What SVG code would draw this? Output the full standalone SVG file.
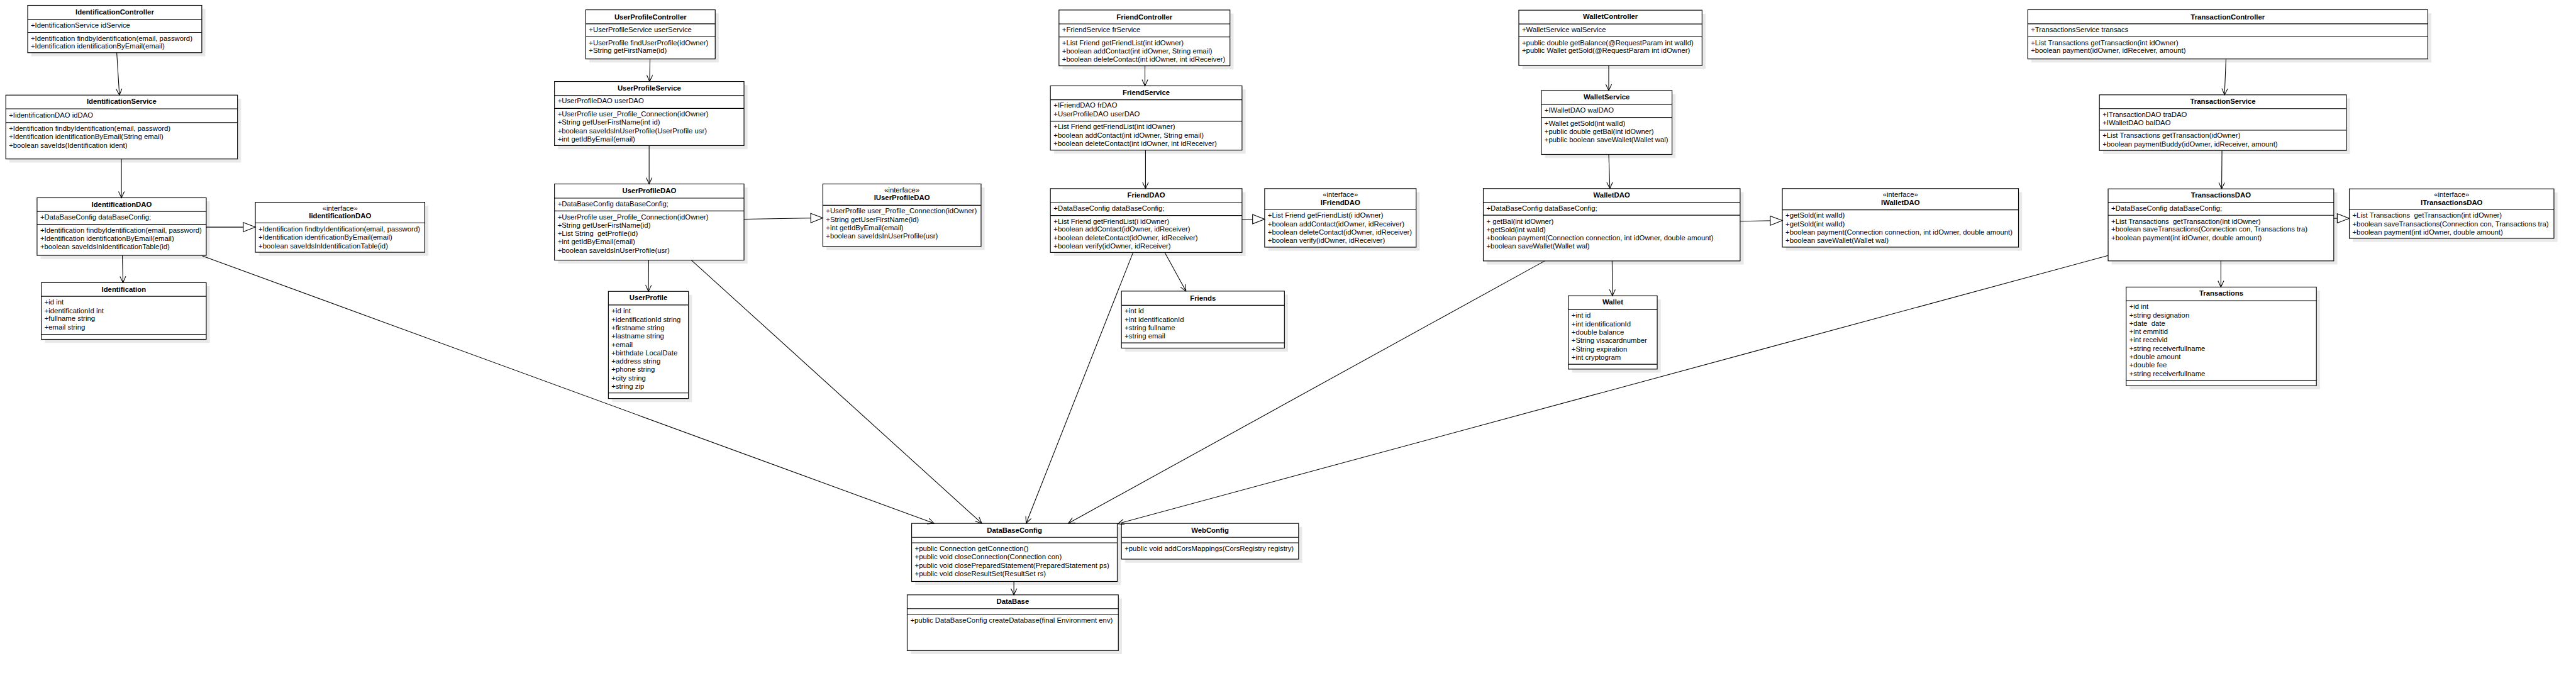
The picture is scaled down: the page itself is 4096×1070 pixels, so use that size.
<svg xmlns="http://www.w3.org/2000/svg" width="4096" height="1070" viewBox="0 0 4096 1070">
<style>
.box{fill:#fff;stroke:#000;stroke-width:1.6}
.sh{fill:#e9e9e9}
.ln{fill:none;stroke:#000;stroke-width:1.6}
text{font-family:"Liberation Sans",Arial,sans-serif;font-size:16px;fill:#000;white-space:pre}
.t{font-weight:bold;text-anchor:middle}
.s{text-anchor:middle}
.dep{fill:none;stroke:#000;stroke-width:1.5;marker-end:url(#open)}
.real{fill:none;stroke:#000;stroke-width:1.5;marker-end:url(#tri)}
</style>
<defs>
<marker id="open" markerUnits="userSpaceOnUse" markerWidth="40" markerHeight="40" viewBox="-20 -20 40 40" refX="0" refY="0" orient="auto"><path d="M-14,-6.5 L0,0 L-14,6.5" fill="none" stroke="#000" stroke-width="1.5"/></marker>
<marker id="tri" markerUnits="userSpaceOnUse" markerWidth="70" markerHeight="70" viewBox="-35 -35 70 70" refX="0" refY="0" orient="auto"><path d="M-27,-10.5 L0,0 L-27,10.5 Z" fill="#fff" stroke="#000" stroke-width="1.5"/></marker>
</defs>
<rect x="0" y="0" width="4096" height="1070" fill="#fff"/>
<g transform="scale(0.70988)">
<g id="nodes">
<g id="IdentificationController">
<rect class="sh" x="70" y="20" width="390" height="106"/>
<rect class="box" x="62" y="12" width="390" height="106"/>
<path class="ln" d="M62,43.5H452M62,72.5H452"/>
<text class="t" x="257" y="33">IdentificationController</text>
<text x="69" y="62">+IdentificationService idService</text>
<text x="69" y="91">+Identification findbyIdentification(email, password)</text>
<text x="69" y="109">+Identification identificationByEmail(email)</text>
</g>
<g id="IdentificationService">
<rect class="sh" x="21" y="221" width="519" height="143"/>
<rect class="box" x="13" y="213" width="519" height="143"/>
<path class="ln" d="M13,243.7H532M13,274.6H532"/>
<text class="t" x="272.5" y="233">IdentificationService</text>
<text x="20" y="264">+IidentificationDAO idDAO</text>
<text x="20" y="293">+Identification findbyIdentification(email, password)</text>
<text x="20" y="312">+Identification identificationByEmail(String email)</text>
<text x="20" y="331">+boolean saveIds(Identification ident)</text>
</g>
<g id="IdentificationDAO">
<rect class="sh" x="91" y="451" width="379" height="129"/>
<rect class="box" x="83" y="443" width="379" height="129"/>
<path class="ln" d="M83,473.6H462M83,502.4H462"/>
<text class="t" x="272.5" y="463">IdentificationDAO</text>
<text x="90" y="492">+DataBaseConfig dataBaseConfig;</text>
<text x="90" y="521">+Identification findbyIdentification(email, password)</text>
<text x="90" y="539.5">+Identification identificationByEmail(email)</text>
<text x="90" y="558">+boolean saveIdsInIdentificationTable(id)</text>
</g>
<g id="IidentificationDAO">
<rect class="sh" x="580" y="461" width="379.5" height="112"/>
<rect class="box" x="572" y="453" width="379.5" height="112"/>
<path class="ln" d="M572,499H951.5"/>
<text class="s" x="761.75" y="471.5">«interface»</text>
<text class="t" x="761.75" y="489">IidentificationDAO</text>
<text x="579" y="518">+Identification findbyIdentification(email, password)</text>
<text x="579" y="537">+Identification identificationByEmail(email)</text>
<text x="579" y="556">+boolean saveIdsInIdentificationTable(id)</text>
</g>
<g id="Identification">
<rect class="sh" x="100.5" y="641" width="369.5" height="127"/>
<rect class="box" x="92.5" y="633" width="369.5" height="127"/>
<path class="ln" d="M92.5,663.6H462M92.5,748.7H462"/>
<text class="t" x="277.25" y="653">Identification</text>
<text x="99.5" y="682">+id int</text>
<text x="99.5" y="701">+identificationId int</text>
<text x="99.5" y="719">+fullname string</text>
<text x="99.5" y="737.5">+email string</text>
</g>
<g id="UserProfileController">
<rect class="sh" x="1320" y="30" width="290" height="110"/>
<rect class="box" x="1312" y="22" width="290" height="110"/>
<path class="ln" d="M1312,53.4H1602M1312,82H1602"/>
<text class="t" x="1457" y="43">UserProfileController</text>
<text x="1319" y="72">+UserProfileService userService</text>
<text x="1319" y="101">+UserProfile findUserProfile(idOwner)</text>
<text x="1319" y="119">+String getFirstName(id)</text>
</g>
<g id="UserProfileService">
<rect class="sh" x="1250" y="190.5" width="424.5" height="143.5"/>
<rect class="box" x="1242" y="182.5" width="424.5" height="143.5"/>
<path class="ln" d="M1242,214H1666.5M1242,242.8H1666.5"/>
<text class="t" x="1454.25" y="203">UserProfileService</text>
<text x="1249" y="231.5">+UserProfileDAO userDAO</text>
<text x="1249" y="261">+UserProfile user_Profile_Connection(idOwner)</text>
<text x="1249" y="279.5">+String getUserFirstName(int id)</text>
<text x="1249" y="298">+boolean saveIdsInUserProfile(UserProfile usr)</text>
<text x="1249" y="317">+int getIdByEmail(email)</text>
</g>
<g id="UserProfileDAO">
<rect class="sh" x="1250" y="420" width="424.5" height="170.6"/>
<rect class="box" x="1242" y="412" width="424.5" height="170.6"/>
<path class="ln" d="M1242,443.7H1666.5M1242,472.4H1666.5"/>
<text class="t" x="1454.25" y="432.5">UserProfileDAO</text>
<text x="1249" y="462">+DataBaseConfig dataBaseConfig;</text>
<text x="1249" y="491">+UserProfile user_Profile_Connection(idOwner)</text>
<text x="1249" y="509.5">+String getUserFirstName(id)</text>
<text x="1249" y="528">+List String  getProfile(id)</text>
<text x="1249" y="547">+int getIdByEmail(email)</text>
<text x="1249" y="566">+boolean saveIdsInUserProfile(usr)</text>
</g>
<g id="IUserProfileDAO">
<rect class="sh" x="1851" y="420" width="354.5" height="140"/>
<rect class="box" x="1843" y="412" width="354.5" height="140"/>
<path class="ln" d="M1843,459.8H2197.5"/>
<text class="s" x="2020.25" y="431">«interface»</text>
<text class="t" x="2020.25" y="448.5">IUserProfileDAO</text>
<text x="1850" y="478">+UserProfile user_Profile_Connection(idOwner)</text>
<text x="1850" y="497">+String getUserFirstName(id)</text>
<text x="1850" y="516">+int getIdByEmail(email)</text>
<text x="1850" y="534">+boolean saveIdsInUserProfile(usr)</text>
</g>
<g id="UserProfile">
<rect class="sh" x="1370.7" y="660.6" width="179.3" height="240"/>
<rect class="box" x="1362.7" y="652.6" width="179.3" height="240"/>
<path class="ln" d="M1362.7,683H1542M1362.7,880H1542"/>
<text class="t" x="1452.35" y="672.5">UserProfile</text>
<text x="1369.7" y="702">+id int</text>
<text x="1369.7" y="721">+identificationId string</text>
<text x="1369.7" y="740">+firstname string</text>
<text x="1369.7" y="758">+lastname string</text>
<text x="1369.7" y="777">+email</text>
<text x="1369.7" y="796">+birthdate LocalDate</text>
<text x="1369.7" y="814.5">+address string</text>
<text x="1369.7" y="833">+phone string</text>
<text x="1369.7" y="852">+city string</text>
<text x="1369.7" y="871">+string zip</text>
</g>
<g id="FriendController">
<rect class="sh" x="2380" y="30.4" width="383" height="125"/>
<rect class="box" x="2372" y="22.4" width="383" height="125"/>
<path class="ln" d="M2372,53.6H2755M2372,82.7H2755"/>
<text class="t" x="2563.5" y="43">FriendController</text>
<text x="2379" y="72">+FriendService frService</text>
<text x="2379" y="101">+List Friend getFriendList(int idOwner)</text>
<text x="2379" y="119.5">+boolean addContact(int idOwner, String email)</text>
<text x="2379" y="138">+boolean deleteContact(int idOwner, int idReceiver)</text>
</g>
<g id="FriendService">
<rect class="sh" x="2360.8" y="200.3" width="429.2" height="144"/>
<rect class="box" x="2352.8" y="192.3" width="429.2" height="144"/>
<path class="ln" d="M2352.8,223.5H2782M2352.8,271.4H2782"/>
<text class="t" x="2567.4" y="212.5">FriendService</text>
<text x="2360" y="241.5">+IFriendDAO frDAO</text>
<text x="2360" y="261">+UserProfileDAO userDAO</text>
<text x="2360" y="288.5">+List Friend getFriendList(int idOwner)</text>
<text x="2360" y="308">+boolean addContact(int idOwner, String email)</text>
<text x="2360" y="327.5">+boolean deleteContact(int idOwner, int idReceiver)</text>
</g>
<g id="FriendDAO">
<rect class="sh" x="2360.8" y="430.4" width="429.2" height="143"/>
<rect class="box" x="2352.8" y="422.4" width="429.2" height="143"/>
<path class="ln" d="M2352.8,453.6H2782M2352.8,482.7H2782"/>
<text class="t" x="2567.4" y="443">FriendDAO</text>
<text x="2360" y="472">+DataBaseConfig dataBaseConfig;</text>
<text x="2360" y="501">+List Friend getFriendList(i idOwner)</text>
<text x="2360" y="519">+boolean addContact(idOwner, idReceiver)</text>
<text x="2360" y="538">+boolean deleteContact(idOwner, idReceiver)</text>
<text x="2360" y="557">+boolean verify(idOwner, idReceiver)</text>
</g>
<g id="IFriendDAO">
<rect class="sh" x="2840.7" y="430.4" width="339.3" height="131.2"/>
<rect class="box" x="2832.7" y="422.4" width="339.3" height="131.2"/>
<path class="ln" d="M2832.7,469.4H3172"/>
<text class="s" x="3002.35" y="441">«interface»</text>
<text class="t" x="3002.35" y="459">IFriendDAO</text>
<text x="2839.7" y="488">+List Friend getFriendList(i idOwner)</text>
<text x="2839.7" y="507">+boolean addContact(idOwner, idReceiver)</text>
<text x="2839.7" y="526">+boolean deleteContact(idOwner, idReceiver)</text>
<text x="2839.7" y="544">+boolean verify(idOwner, idReceiver)</text>
</g>
<g id="Friends">
<rect class="sh" x="2520" y="660" width="365" height="127.6"/>
<rect class="box" x="2512" y="652" width="365" height="127.6"/>
<path class="ln" d="M2512,683.7H2877M2512,767.9H2877"/>
<text class="t" x="2694.5" y="673">Friends</text>
<text x="2519" y="702">+int id</text>
<text x="2519" y="721">+int identificationId</text>
<text x="2519" y="739">+string fullname</text>
<text x="2519" y="758">+string email</text>
</g>
<g id="WalletController">
<rect class="sh" x="3410" y="30.8" width="410.4" height="124.1"/>
<rect class="box" x="3402" y="22.8" width="410.4" height="124.1"/>
<path class="ln" d="M3402,53.7H3812.4M3402,82.4H3812.4"/>
<text class="t" x="3607.2" y="42.5">WalletController</text>
<text x="3409" y="71.5">+WalletService walService</text>
<text x="3409" y="101">+public double getBalance(@RequestParam int walId)</text>
<text x="3409" y="119">+public Wallet getSold(@RequestParam int idOwner)</text>
</g>
<g id="WalletService">
<rect class="sh" x="3460.5" y="210.7" width="292.7" height="143.1"/>
<rect class="box" x="3452.5" y="202.7" width="292.7" height="143.1"/>
<path class="ln" d="M3452.5,234.2H3745.2M3452.5,262.9H3745.2"/>
<text class="t" x="3598.85" y="223">WalletService</text>
<text x="3459.5" y="252">+IWalletDAO walDAO</text>
<text x="3459.5" y="281.5">+Wallet getSold(int walId)</text>
<text x="3459.5" y="299.5">+public double getBal(int idOwner)</text>
<text x="3459.5" y="318">+public boolean saveWallet(Wallet wal)</text>
</g>
<g id="WalletDAO">
<rect class="sh" x="3330.4" y="430.3" width="575.3" height="162.1"/>
<rect class="box" x="3322.4" y="422.3" width="575.3" height="162.1"/>
<path class="ln" d="M3322.4,453.7H3897.7M3322.4,481.9H3897.7"/>
<text class="t" x="3610" y="442.5">WalletDAO</text>
<text x="3329.4" y="472">+DataBaseConfig dataBaseConfig;</text>
<text x="3329.4" y="501">+ getBal(int idOwner)</text>
<text x="3329.4" y="519.5">+getSold(int walId)</text>
<text x="3329.4" y="538">+boolean payment(Connection connection, int idOwner, double amount)</text>
<text x="3329.4" y="556.5">+boolean saveWallet(Wallet wal)</text>
</g>
<g id="IWalletDAO">
<rect class="sh" x="4000.3" y="430.3" width="528.9" height="131.2"/>
<rect class="box" x="3992.3" y="422.3" width="528.9" height="131.2"/>
<path class="ln" d="M3992.3,470H4521.2"/>
<text class="s" x="4256.75" y="441">«interface»</text>
<text class="t" x="4256.75" y="459">IWalletDAO</text>
<text x="3999.3" y="488">+getSold(int walId)</text>
<text x="3999.3" y="507">+getSold(int walId)</text>
<text x="3999.3" y="526">+boolean payment(Connection connection, int idOwner, double amount)</text>
<text x="3999.3" y="544">+boolean saveWallet(Wallet wal)</text>
</g>
<g id="Wallet">
<rect class="sh" x="3521" y="670.4" width="199" height="164.3"/>
<rect class="box" x="3513" y="662.4" width="199" height="164.3"/>
<path class="ln" d="M3513,693.3H3712M3513,815.8H3712"/>
<text class="t" x="3612.5" y="682.5">Wallet</text>
<text x="3520" y="712">+int id</text>
<text x="3520" y="731">+int identificationId</text>
<text x="3520" y="749.5">+double balance</text>
<text x="3520" y="768">+String visacardnumber</text>
<text x="3520" y="787">+String expiration</text>
<text x="3520" y="806">+int cryptogram</text>
</g>
<g id="TransactionController">
<rect class="sh" x="4550" y="29.8" width="896" height="110.2"/>
<rect class="box" x="4542" y="21.8" width="896" height="110.2"/>
<path class="ln" d="M4542,53.4H5438M4542,82H5438"/>
<text class="t" x="4990" y="43">TransactionController</text>
<text x="4549" y="72">+TransactionsService transacs</text>
<text x="4549" y="101">+List Transactions getTransaction(int idOwner)</text>
<text x="4549" y="119">+boolean payment(idOwner, idReceiver, amount)</text>
</g>
<g id="TransactionService">
<rect class="sh" x="4710.5" y="220.4" width="553.2" height="124.6"/>
<rect class="box" x="4702.5" y="212.4" width="553.2" height="124.6"/>
<path class="ln" d="M4702.5,243.4H5255.7M4702.5,291.6H5255.7"/>
<text class="t" x="4979.1" y="233">TransactionService</text>
<text x="4709.5" y="262">+ITransactionDAO traDAO</text>
<text x="4709.5" y="281">+IWalletDAO balDAO</text>
<text x="4709.5" y="308.5">+List Transactions getTransaction(idOwner)</text>
<text x="4709.5" y="328">+boolean paymentBuddy(idOwner, idReceiver, amount)</text>
</g>
<g id="TransactionsDAO">
<rect class="sh" x="4730" y="431" width="505.4" height="161.3"/>
<rect class="box" x="4722" y="423" width="505.4" height="161.3"/>
<path class="ln" d="M4722,453.4H5227.4M4722,482.1H5227.4"/>
<text class="t" x="4974.7" y="443">TransactionsDAO</text>
<text x="4729" y="472">+DataBaseConfig dataBaseConfig;</text>
<text x="4729" y="501">+List Transactions  getTransaction(int idOwner)</text>
<text x="4729" y="519">+boolean saveTransactions(Connection con, Transactions tra)</text>
<text x="4729" y="538">+boolean payment(int idOwner, double amount)</text>
</g>
<g id="ITransactionsDAO">
<rect class="sh" x="5270.2" y="431" width="458.4" height="110.8"/>
<rect class="box" x="5262.2" y="423" width="458.4" height="110.8"/>
<path class="ln" d="M5262.2,469.5H5720.6"/>
<text class="s" x="5491.4" y="441.5">«interface»</text>
<text class="t" x="5491.4" y="459">ITransactionsDAO</text>
<text x="5269.2" y="488">+List Transactions  getTransaction(int idOwner)</text>
<text x="5269.2" y="507">+boolean saveTransactions(Connection con, Transactions tra)</text>
<text x="5269.2" y="526">+boolean payment(int idOwner, double amount)</text>
</g>
<g id="Transactions">
<rect class="sh" x="4770.4" y="650.9" width="426.1" height="220.9"/>
<rect class="box" x="4762.4" y="642.9" width="426.1" height="220.9"/>
<path class="ln" d="M4762.4,673.3H5188.5M4762.4,852.4H5188.5"/>
<text class="t" x="4975.45" y="662.5">Transactions</text>
<text x="4769.4" y="692">+id int</text>
<text x="4769.4" y="711">+string designation</text>
<text x="4769.4" y="729.5">+date  date</text>
<text x="4769.4" y="748">+int emmitid</text>
<text x="4769.4" y="767">+int receivid</text>
<text x="4769.4" y="786">+string receiverfullname</text>
<text x="4769.4" y="804.5">+double amount</text>
<text x="4769.4" y="823">+double fee</text>
<text x="4769.4" y="842">+string receiverfullname</text>
</g>
<g id="DataBaseConfig">
<rect class="sh" x="2050" y="1180.3" width="460.5" height="130"/>
<rect class="box" x="2042" y="1172.3" width="460.5" height="130"/>
<path class="ln" d="M2042,1203.3H2502.5M2042,1215.7H2502.5"/>
<text class="t" x="2272.25" y="1193">DataBaseConfig</text>
<text x="2049" y="1234.5">+public Connection getConnection()</text>
<text x="2049" y="1253">+public void closeConnection(Connection con)</text>
<text x="2049" y="1272">+public void closePreparedStatement(PreparedStatement ps)</text>
<text x="2049" y="1291">+public void closeResultSet(ResultSet rs)</text>
</g>
<g id="WebConfig">
<rect class="sh" x="2520" y="1180.3" width="396.7" height="80"/>
<rect class="box" x="2512" y="1172.3" width="396.7" height="80"/>
<path class="ln" d="M2512,1203.3H2908.7M2512,1215.7H2908.7"/>
<text class="t" x="2710.35" y="1193">WebConfig</text>
<text x="2519" y="1234.5">+public void addCorsMappings(CorsRegistry registry)</text>
</g>
<g id="DataBase">
<rect class="sh" x="2040" y="1340.3" width="473" height="124.7"/>
<rect class="box" x="2032" y="1332.3" width="473" height="124.7"/>
<path class="ln" d="M2032,1363.3H2505M2032,1376H2505"/>
<text class="t" x="2268.5" y="1353">DataBase</text>
<text x="2039" y="1394.5">+public DataBaseConfig createDatabase(final Environment env)</text>
</g>
</g>
<g id="connectors">
<path class="dep" d="M261.5,118.4L267.5,213"/>
<path class="dep" d="M272,356L272,443"/>
<path class="dep" d="M274,572L275.5,633"/>
<path class="dep" d="M1456,132L1455,182.5"/>
<path class="dep" d="M1454,326L1454,412"/>
<path class="dep" d="M1453,582.6L1452.5,652.6"/>
<path class="dep" d="M2564.6,147.4L2564.6,192.3"/>
<path class="dep" d="M2565.8,336.3L2565.8,422.4"/>
<path class="dep" d="M2608.8,565.4L2656.4,652"/>
<path class="dep" d="M3603.4,146.9L3603.4,202.7"/>
<path class="dep" d="M3603.4,345.8L3606,422.3"/>
<path class="dep" d="M3611,584.4L3611.7,662.4"/>
<path class="dep" d="M4986,132L4982.7,212.4"/>
<path class="dep" d="M4977,337L4976.3,423"/>
<path class="dep" d="M4974.6,584.3L4974.6,642.9"/>
<path class="dep" d="M2271,1302.3L2271,1332.3"/>
<path class="dep" d="M452.8,573L2092,1172"/>
<path class="dep" d="M1548.6,582.6L2199,1172"/>
<path class="dep" d="M2538,565.4L2298.5,1172"/>
<path class="dep" d="M3460,584.4L2393,1172"/>
<path class="dep" d="M4722,572.3L2504,1173"/>
<path class="real" d="M462,508.7L572,508.7"/>
<path class="real" d="M1666.5,490.8L1843,488"/>
<path class="real" d="M2782,490.8L2832.7,490.8"/>
<path class="real" d="M3897.7,495.5L3992.3,493.8"/>
<path class="real" d="M5227.4,489L5262.2,489"/>
</g>
</g>
</svg>
